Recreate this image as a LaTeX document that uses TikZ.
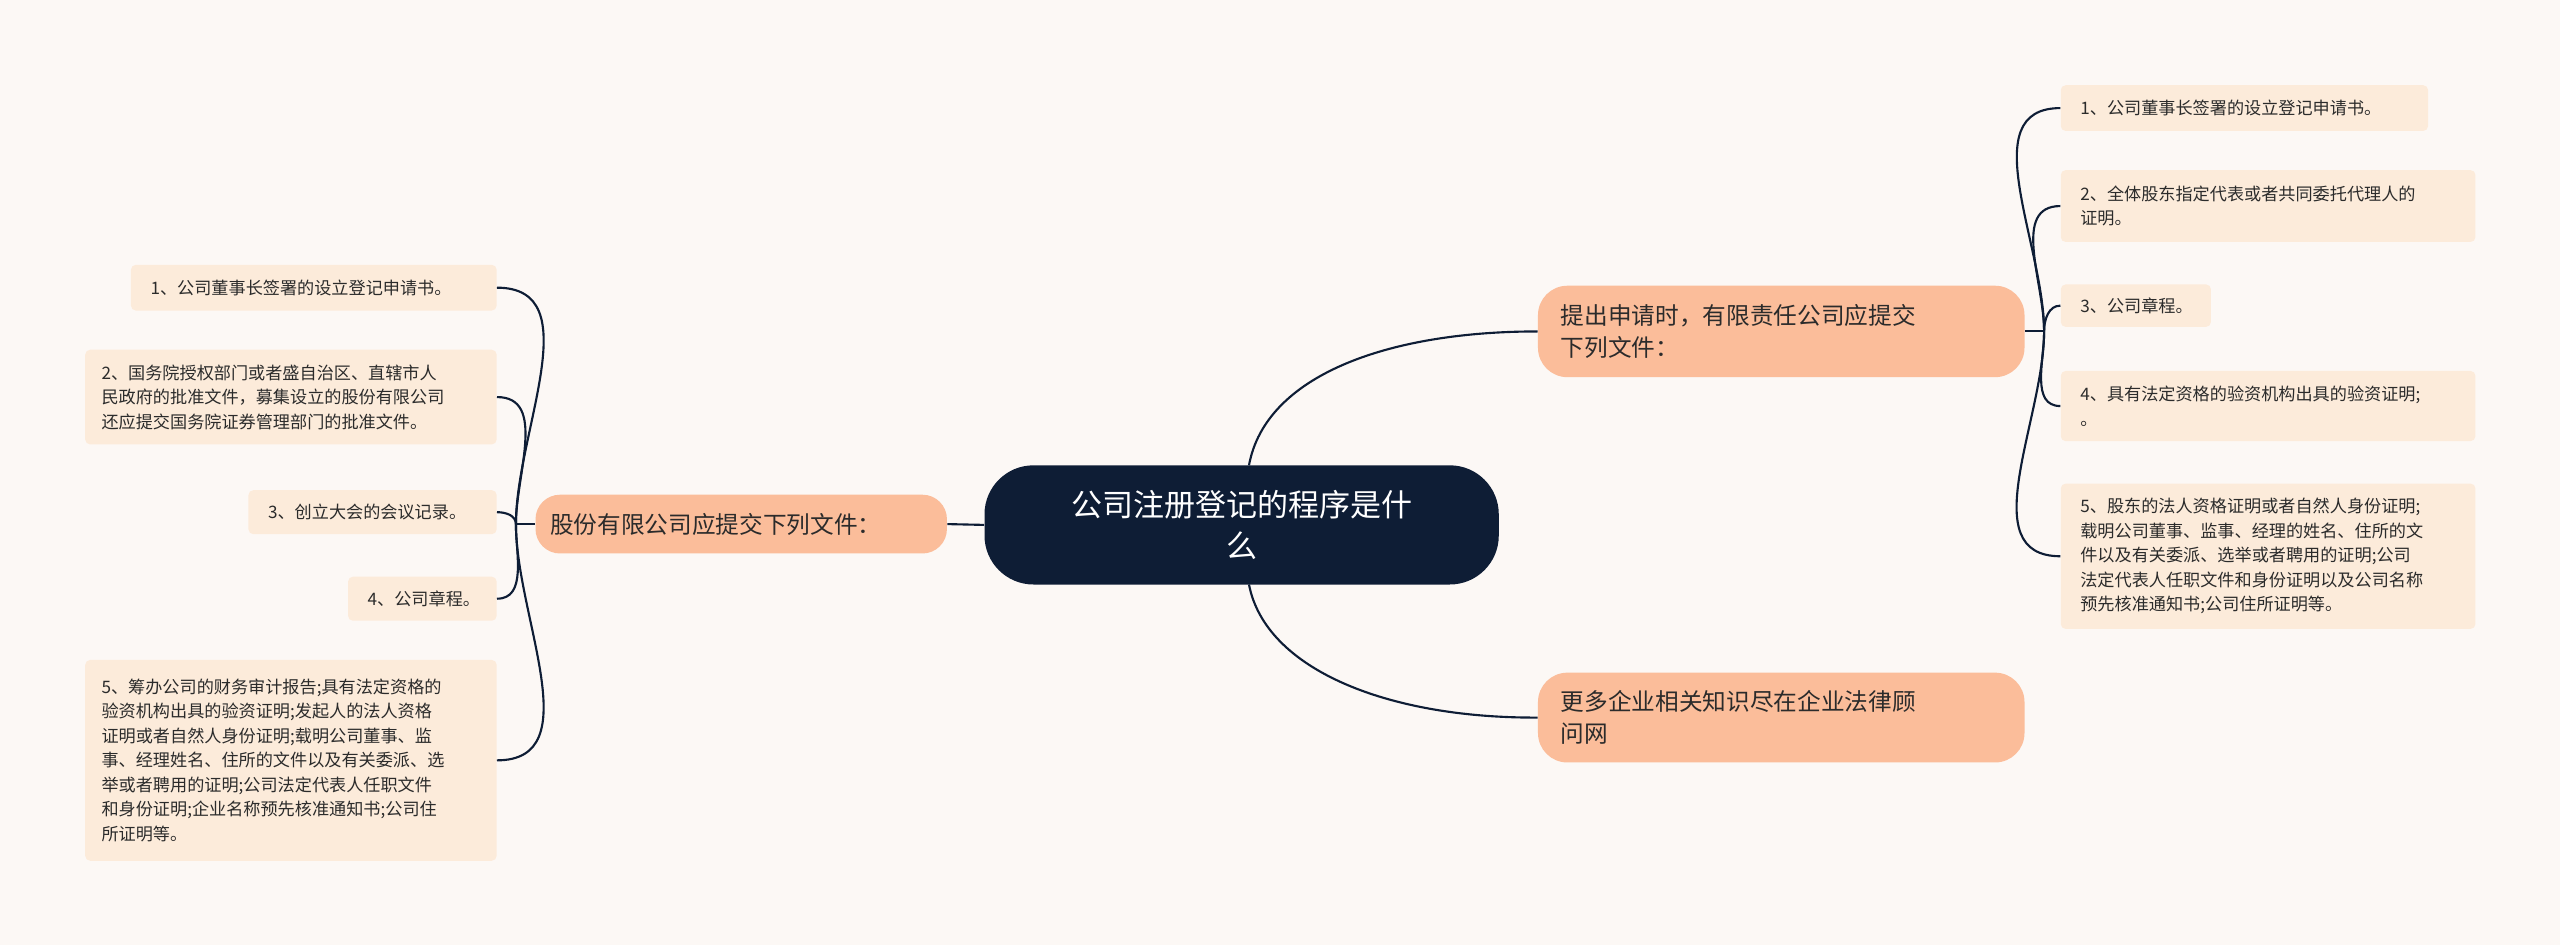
\documentclass[tikz,border=0pt]{standalone}
\usepackage{fontspec}
\setmainfont{Noto Sans CJK SC}
\definecolor{bg}{HTML}{FCF8F5}
\definecolor{navy}{HTML}{0E1D35}
\definecolor{salmon}{HTML}{FBBD9A}
\definecolor{leaf}{HTML}{FCEBDA}
\definecolor{txt}{HTML}{2B2B2B}
\begin{document}
\begin{tikzpicture}[x=1pt,y=-1pt,
  conn/.style={draw=navy,line width=1.3pt},
  leafbox/.style={fill=leaf,rounded corners=3pt,inner sep=0pt,font=\fontsize{10.5}{15}\selectfont,text=txt,align=left,anchor=north west},
  branch/.style={fill=salmon,rounded corners=18pt,inner sep=0pt,font=\fontsize{14.5}{20}\selectfont,text=txt,align=left},
  centerbox/.style={fill=navy,rounded corners=30pt,inner sep=0pt,font=\fontsize{19}{25}\selectfont,text=white,align=center}]
\fill[bg] (0,0) rectangle (1568,579);
\useasboundingbox (0,0) rectangle (1568,579);
% center
\node[centerbox,minimum width=315pt,minimum height=73pt] (c) at (760.5,321.5) {公司注册登记的程序是什\\么};
% branches
\node[branch,minimum width=298pt,minimum height=56pt,text width=270pt] (b1) at (1091,203) {提出申请时，有限责任公司应提交\\下列文件：};
\node[branch,minimum width=298pt,minimum height=55pt,text width=270pt] (b2) at (1091,439.5) {更多企业相关知识尽在企业法律顾\\问网};
\node[branch,minimum width=252pt,minimum height=36pt,text width=234pt,rounded corners=15pt] (b3) at (454,321) {股份有限公司应提交下列文件：};
% right leaves
\node[leafbox,minimum width=225pt,minimum height=28pt,text width=215pt] (r1) at (1262,52) {\hspace*{7pt}1、公司董事长签署的设立登记申请书。};
\node[leafbox,minimum width=254pt,minimum height=44pt,text width=244pt] (r2) at (1262,104) {\hspace*{7pt}\parbox{240pt}{2、全体股东指定代表或者共同委托代理人的\\证明。}};
\node[leafbox,minimum width=92pt,minimum height=26pt,text width=82pt] (r3) at (1262,174) {\hspace*{7pt}3、公司章程。};
\node[leafbox,minimum width=254pt,minimum height=43pt,text width=244pt] (r4) at (1262,227) {\hspace*{7pt}\parbox{240pt}{4、具有法定资格的验资机构出具的验资证明;\\。}};
\node[leafbox,minimum width=254pt,minimum height=89pt,text width=244pt] (r5) at (1262,296) {\hspace*{7pt}\parbox{240pt}{5、股东的法人资格证明或者自然人身份证明;\\载明公司董事、监事、经理的姓名、住所的文\\件以及有关委派、选举或者聘用的证明;公司\\法定代表人任职文件和身份证明以及公司名称\\预先核准通知书;公司住所证明等。}};
% left leaves
\node[leafbox,minimum width=224pt,minimum height=28pt,text width=214pt] (l1) at (80,162) {\hspace*{7pt}1、公司董事长签署的设立登记申请书。};
\node[leafbox,minimum width=252pt,minimum height=58pt,text width=242pt] (l2) at (52,214) {\hspace*{5pt}\parbox{240pt}{2、国务院授权部门或者盛自治区、直辖市人\\民政府的批准文件，募集设立的股份有限公司\\还应提交国务院证券管理部门的批准文件。}};
\node[leafbox,minimum width=152pt,minimum height=27pt,text width=142pt] (l3) at (152,300) {\hspace*{7pt}3、创立大会的会议记录。};
\node[leafbox,minimum width=91pt,minimum height=27pt,text width=81pt] (l4) at (213,353) {\hspace*{7pt}4、公司章程。};
\node[leafbox,minimum width=252pt,minimum height=123pt,text width=242pt] (l5) at (52,404) {\hspace*{5pt}\parbox{240pt}{5、筹办公司的财务审计报告;具有法定资格的\\验资机构出具的验资证明;发起人的法人资格\\证明或者自然人身份证明;载明公司董事、监\\事、经理姓名、住所的文件以及有关委派、选\\举或者聘用的证明;公司法定代表人任职文件\\和身份证明;企业名称预先核准通知书;公司住\\所证明等。}};
% connectors
\coordinate (ct) at (765,285);
\coordinate (cb) at (765,358);
\draw[conn] (ct) .. controls (775,230) and (850,203) .. (b1.west);
\draw[conn] (cb) .. controls (775,410) and (850,440) .. (b2.west);
\draw[conn] (c.west) -- (b3.east);
\coordinate (jr) at (1252,203);
\draw[conn] (b1.east) -- (jr);
\foreach \n in {r1,r2,r3}{\draw[conn] (jr) to[out=90,in=180] (\n.west);}
\foreach \n in {r4,r5}{\draw[conn] (jr) to[out=-90,in=180] (\n.west);}
\coordinate (jl) at (316,321);
\draw[conn] (b3.west) -- (jl);
\foreach \n in {l1,l2,l3}{\draw[conn] (jl) to[out=90,in=0] (\n.east);}
\foreach \n in {l4,l5}{\draw[conn] (jl) to[out=-90,in=0] (\n.east);}
\end{tikzpicture}
\end{document}
